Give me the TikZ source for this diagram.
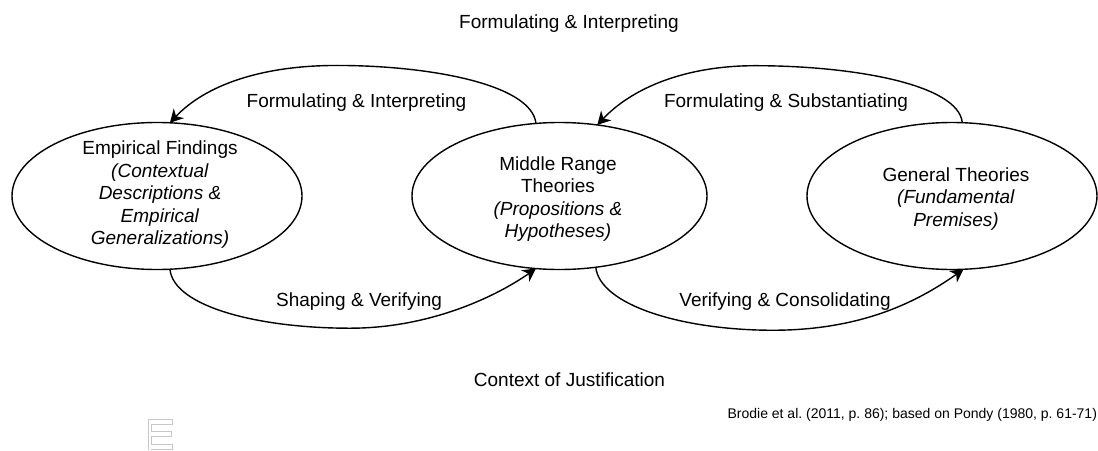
\documentclass[tikz,border=0pt]{standalone}
\usepackage{fontspec}
\setmainfont{Liberation Sans}
\usetikzlibrary{arrows.meta,shapes.geometric}
\frenchspacing
\begin{document}
\begin{tikzpicture}[x=1pt,y=-1pt,
  every node/.style={inner sep=0pt, outer sep=0pt},
  txt/.style={font=\fontsize{19}{22.5}\selectfont, align=center},
  lbl/.style={font=\fontsize{19}{22.5}\selectfont, anchor=base},
  small/.style={font=\fontsize{14}{16}\selectfont},
  oval/.style={draw, ellipse, line width=1.4pt, minimum width=#1, minimum height=147pt},
  flow/.style={line width=1.4pt, -{Stealth[length=13pt,width=14pt,inset=4pt]}}]
\useasboundingbox (0,0) rectangle (1098,450);

% the three theory levels
\node[oval=290pt] (L) at (157,196) {};
\node[oval=295pt] (M) at (559.5,196) {};
\node[oval=290pt] (R) at (952,196) {};

\node[txt] (Lt) at (160,195) {Empirical Findings\\ \textit{(Contextual}\\ \textit{Descriptions \&}\\ \textit{Empirical}\\ \textit{Generalizations)}};
\node[txt] (Mt) at (558,199) {Middle Range\\ Theories\\ \textit{(Propositions \&}\\ \textit{Hypotheses)}};
\node[txt] (Rt) at (956,199) {General Theories\\ \textit{(Fundamental}\\ \textit{Premises)}};

% upper loop: from general to concrete
\draw[flow] (M.108) .. controls +(-4,-39) and +(93,0) .. ++(-199,-58)
            .. controls +(-77,0) and +(35,-37) .. (L.80);
\draw[flow] (R.82) .. controls +(-4,-39) and +(95,0) .. ++(-207,-57)
            .. controls +(-70,0) and +(35,-37) .. (M.62);

% lower loop: from concrete to general
\draw[flow] (L.280) .. controls +(4,38) and +(-90,0) .. ++(180,59)
            .. controls +(80,0) and +(-40,28) .. (M.252);
\draw[flow] (M.297) .. controls +(4,38) and +(-90,0) .. ++(177,63)
            .. controls +(95,0) and +(-40,28) .. (R.279);

% labels
\node[lbl] (top) at (569,28) {Formulating \& Interpreting};
\node[lbl] (fi) at (356.5,107) {Formulating \& Interpreting};
\node[lbl] (fs) at (786,107) {Formulating \& Substantiating};
\node[lbl] (sv) at (359,306) {Shaping \& Verifying};
\node[lbl] (vc) at (785,306) {Verifying \& Consolidating};
\node[lbl] (ctx) at (569.5,386) {Context of Justification};
\node[small, anchor=base east] (cite) at (1097,418) {Brodie et al. (2011, p. 86); based on Pondy (1980, p. 61-71)};

% faint outlined glyph near the lower left corner
\draw[black!22, line width=0.7pt, line join=miter]
  (148.3,450) -- (148.3,419) -- (172.7,419) -- (172.7,424) -- (151,424)
  -- (151,431.7) -- (171.7,431.7) -- (171.7,436) -- (151,436) -- (151,444)
  -- (172.7,444) -- (172.7,449) -- (151,449) -- (151,450);
\end{tikzpicture}
\end{document}
